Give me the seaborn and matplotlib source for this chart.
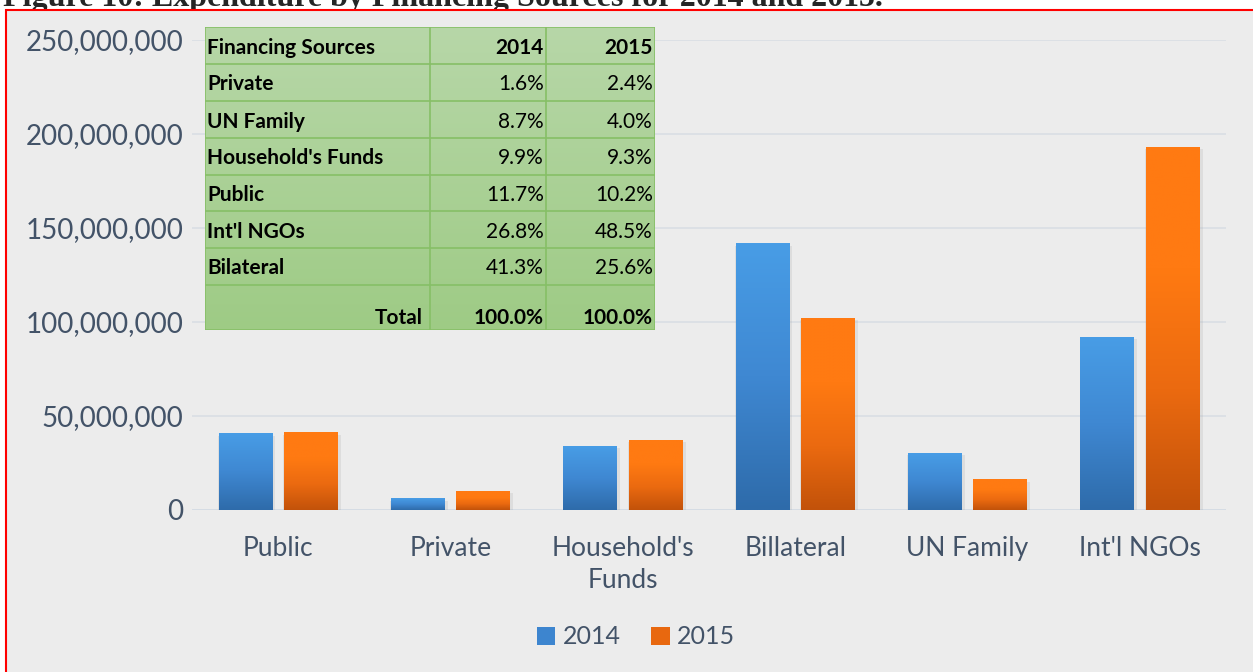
import numpy as np
import pandas as pd
import matplotlib
matplotlib.use("Agg")
import matplotlib.pyplot as plt
import seaborn as sns
from matplotlib.colors import LinearSegmentedColormap
from matplotlib.patches import Rectangle, Patch
from matplotlib.ticker import FuncFormatter

# expenditure by source
sources = ["Public", "Private", "Household's\nFunds", "Billateral", "UN Family", "Int'l NGOs"]
exp_2014 = [40.5e6, 6.0e6, 34.0e6, 141.5e6, 30.0e6, 92.0e6]
exp_2015 = [41.0e6, 10.0e6, 37.2e6, 102.0e6, 16.0e6, 193.0e6]
years = ["2014", "2015"]

# shares table
table_header = ["Financing Sources", "2014", "2015"]
table_sources = ["Private", "UN Family", "Household's Funds", "Public", "Int'l NGOs", "Bilateral"]
share_2014 = ["1.6%", "8.7%", "9.9%", "11.7%", "26.8%", "41.3%"]
share_2015 = ["2.4%", "4.0%", "9.3%", "10.2%", "48.5%", "25.6%"]
total_row = ["Total", "100.0%", "100.0%"]

title = "Figure 10: Expenditure by Financing Sources for 2014 and 2015."

df = pd.DataFrame({
    "source": sources * 2,
    "year": [years[0]] * len(sources) + [years[1]] * len(sources),
    "value": exp_2014 + exp_2015,
})

sns.set_style("whitegrid")
plt.rcParams["font.family"] = ["Lato", "DejaVu Sans"]

W, H = 1253, 672
fig = plt.figure(figsize=(W / 100, H / 100), dpi=100, facecolor="white")

# gray panel with red frame
fig.patches.append(Rectangle((6 / W, -0.05), 1.1, 1 - 10 / H + 0.05, transform=fig.transFigure,
                             facecolor="#ECECEC", edgecolor="red", lw=1.5, zorder=-10))
# title sits mostly above the crop, as in the source page
fig.text(3 / W, 1 - 6 / H, title, fontsize=23, fontweight="bold", family="Liberation Serif",
         ha="left", va="baseline", zorder=-20)

ax = fig.add_axes([192 / W, 1 - 510 / H, (1226 - 192) / W, (510 - 40) / H])
ax.set_facecolor("none")

sns.barplot(data=df, x="source", y="value", hue="year", ax=ax, width=0.76, gap=0.18,
            legend=False, palette=["#3F86CF", "#E8680F"])

cmaps = {
    0: LinearSegmentedColormap.from_list("b", ["#2E6BAA", "#3F88D2", "#489DE6"]),
    1: LinearSegmentedColormap.from_list("o", ["#C2520A", "#EB6A10", "#FF7A12", "#FF7A12"]),
}
grad = np.linspace(1, 0, 256).reshape(-1, 1)
bars = list(ax.patches)
n = len(sources)
for i, p in enumerate(bars):
    x, w, h = p.get_x(), p.get_width(), p.get_height()
    # soft shadow
    ax.add_patch(Rectangle((x - 0.004, -1.2e6), w + 0.022, h + 0.2e6, facecolor="#9a9a9a",
                           alpha=0.18, lw=0, zorder=2))
    ax.imshow(grad, extent=[x, x + w, 0, h], aspect="auto", cmap=cmaps[i // n], zorder=3)
    p.set_visible(False)

ax.set_xlim(-0.5, n - 0.5)
ax.set_ylim(0, 250e6)
ax.set_yticks(np.arange(0, 250e6 + 1, 50e6))
ax.yaxis.set_major_formatter(FuncFormatter(lambda v, _: f"{int(v):,}"))
ax.grid(axis="y", color="#D9DEE4", lw=1.2)
ax.grid(axis="x", visible=False)
ax.axhline(0, color="#D5DCE4", lw=2, zorder=1)
for s in ax.spines.values():
    s.set_visible(False)
ax.tick_params(axis="y", labelsize=20, labelcolor="#435368", pad=6, length=0)
ax.tick_params(axis="x", labelsize=19, labelcolor="#435368", pad=19, length=0)
for lbl in ax.get_xticklabels():
    lbl.set_linespacing(1.35)
ax.set_xlabel("")
ax.set_ylabel("")

handles = [Patch(facecolor="#3D85CF", edgecolor="none"), Patch(facecolor="#E8680F", edgecolor="none")]
fig.legend(handles, years, loc="center", bbox_to_anchor=(636 / W, 1 - 637 / H), ncol=2,
           frameon=False, fontsize=18, labelcolor="#435368", handlelength=0.75,
           handleheight=0.75, handletextpad=0.3, columnspacing=1.2)

# shares table drawn on its own axes, pixel units
tx0, ty0, tx1, ty1 = 205, 27, 655, 330
tab = fig.add_axes([tx0 / W, 1 - ty1 / H, (tx1 - tx0) / W, (ty1 - ty0) / H])
tw, th = tx1 - tx0, ty1 - ty0
tab.axis("off")
gcmap = LinearSegmentedColormap.from_list("g", ["#B7D7A8", "#9ECB85"])
tab.imshow(np.linspace(1, 0, 256).reshape(-1, 1), extent=[0, tw, th, 0], aspect="auto",
           cmap=gcmap, origin="lower")
tab.set_xlim(0, tw)
tab.set_ylim(th, 0)
col_edges = [0, 225, 341, tw]
row_edges = [0, 37, 74, 111, 148, 184, 221, 258, th]
for xe in col_edges:
    tab.plot([xe, xe], [0, th], color="#86BF66", lw=1.2)
for ye in row_edges:
    tab.plot([0, tw], [ye, ye], color="#86BF66", lw=1.2)

rows = [table_header] + [[s, a, b] for s, a, b in zip(table_sources, share_2014, share_2015)]
fs = 15
for r, row in enumerate(rows):
    yc = (row_edges[r] + row_edges[r + 1]) / 2 + 2
    tab.text(2, yc, row[0], fontsize=fs, fontweight="bold", ha="left", va="center", color="black")
    for c in (1, 2):
        tab.text(col_edges[c + 1] - 2, yc, row[c], fontsize=fs, ha="right", va="center",
                 fontweight="bold" if r == 0 else "normal", color="black")
yt = row_edges[-1] - 12
for c in range(3):
    tab.text(col_edges[c + 1] - 2 - (5 if c == 0 else 0), yt, total_row[c], fontsize=fs,
             fontweight="bold", ha="right", va="center", color="black")

plt.savefig("out.png", dpi=100, facecolor=fig.get_facecolor())
